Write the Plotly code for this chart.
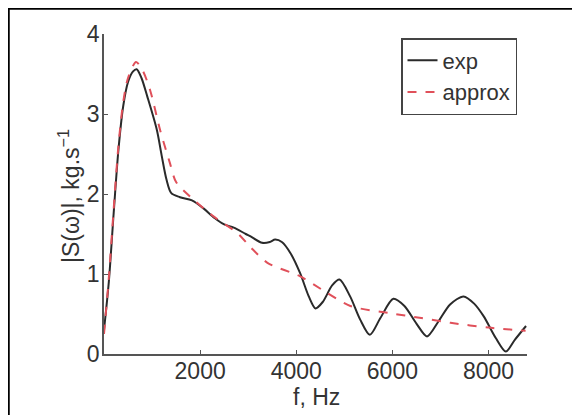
import plotly.graph_objects as go

# experimental curve (black solid)
f_exp = [0, 100, 200, 300, 400, 500, 600, 680, 780, 900, 1100, 1200, 1300, 1400, 1580, 1830, 2070,
         2300, 2500, 2700, 2950, 3050, 3290, 3450, 3560, 3700, 3880, 4080, 4260, 4400,
         4550, 4750, 4900, 5120, 5330, 5530, 5750, 6020, 6250, 6500, 6720, 6950, 7200,
         7480, 7700, 7900, 8150, 8360, 8550, 8780]
s_exp = [0.30, 0.90, 1.75, 2.55, 3.10, 3.40, 3.53, 3.56, 3.45, 3.22, 2.80, 2.48, 2.18, 2.01, 1.96, 1.92, 1.82,
         1.70, 1.62, 1.58, 1.50, 1.47, 1.39, 1.40, 1.43, 1.40, 1.26, 1.01, 0.72, 0.57,
         0.65, 0.86, 0.93, 0.72, 0.43, 0.24, 0.45, 0.69, 0.60, 0.38, 0.22, 0.40, 0.62,
         0.72, 0.63, 0.47, 0.20, 0.03, 0.18, 0.35]

# approximation (red dashed)
f_apx = [0, 100, 200, 300, 400, 500, 667, 800, 958, 1167, 1375, 1500, 1861, 2278, 2778,
         3042, 3400, 4083, 4600, 5125, 5958, 6600, 7208, 8000, 8771]
s_apx = [0.25, 0.95, 1.80, 2.60, 3.15, 3.45, 3.65, 3.55, 3.30, 2.80, 2.38, 2.15, 1.93, 1.72, 1.51,
         1.34, 1.14, 0.97, 0.78, 0.60, 0.51, 0.45, 0.39, 0.33, 0.29]

x_ticks = [2000, 4000, 6000, 8000]
y_ticks = [0, 1, 2, 3, 4]
x_title = "f, Hz"
y_title = "|S(ω)|, kg.s<sup>−1</sup>"

FS = 23
font = dict(family="Liberation Sans, Arial, sans-serif", size=FS, color="#333333")

fig = go.Figure()
fig.add_trace(go.Scatter(x=f_exp, y=s_exp, mode="lines", name="exp",
                         line=dict(color="#2a2a2a", width=2, shape="spline", smoothing=0.8)))
fig.add_trace(go.Scatter(x=f_apx, y=s_apx, mode="lines", name="approx",
                         line=dict(color="#e0505a", width=2, dash="dash", shape="spline", smoothing=0.8)))

# page has an 8px body margin: figure pixel = screenshot pixel - 8
OFF = 8
W, H = 580 - OFF, 415 - OFF
L, T = 104 - OFF, 34 - OFF
pw, ph = 423, 320
R, B = W - L - pw, H - T - ph
fx = lambda px: (px - OFF - L) / pw
fy = lambda py: (T + ph - (py - OFF)) / ph

fig.update_layout(
    width=W, height=H,
    margin=dict(l=L, r=R, t=T, b=B),
    paper_bgcolor="white", plot_bgcolor="white",
    font=font,
    showlegend=True,
    legend=dict(x=fx(401), y=fy(38), xanchor="left", yanchor="top",
                bordercolor="#444444", borderwidth=1.5, bgcolor="white",
                font=dict(size=22, color="#333333"), tracegroupgap=0,
                itemwidth=30),
    xaxis=dict(range=[0, 8800], tickvals=x_ticks, ticks="inside", ticklen=4,
               tickcolor="#555555", showline=True, linecolor="#555555", linewidth=1.5,
               showgrid=False, zeroline=False, ticklabelstandoff=-4),
    yaxis=dict(range=[0, 4], tickvals=y_ticks, ticks="inside", ticklen=4,
               tickcolor="#555555", showline=True, linecolor="#555555", linewidth=1.5,
               showgrid=False, zeroline=False, ticklabelstandoff=-2),
    annotations=[
        dict(text=x_title, xref="paper", yref="paper", x=fx(316), y=fy(397),
             xanchor="center", yanchor="middle", showarrow=False, font=dict(size=FS)),
        dict(text=y_title, xref="paper", yref="paper", x=fx(69), y=fy(196),
             xanchor="center", yanchor="middle", showarrow=False, textangle=-90,
             font=dict(size=FS)),
    ],
    shapes=[
        dict(type="line", xref="paper", yref="paper", x0=fx(8.5), x1=fx(8.5), y0=fy(8), y1=fy(430),
             line=dict(color="black", width=2.5)),
        dict(type="line", xref="paper", yref="paper", x0=fx(7), x1=fx(600), y0=fy(8.5), y1=fy(8.5),
             line=dict(color="black", width=2.5)),
    ],
)

fig.write_html("out.html")
